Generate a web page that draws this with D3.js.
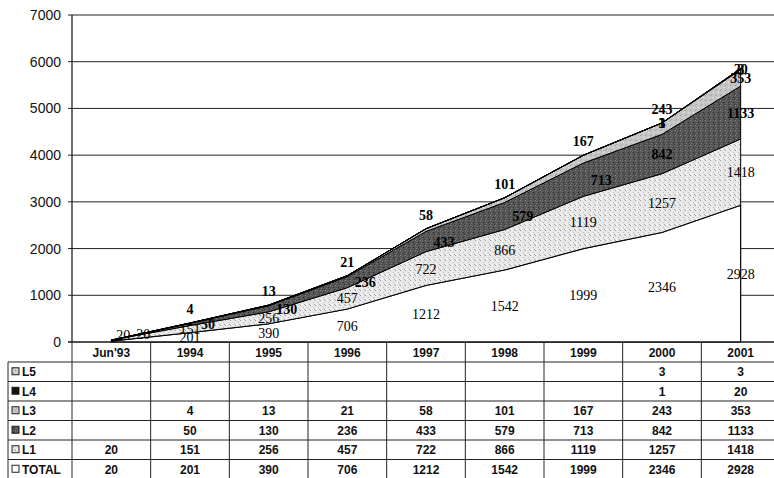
<!DOCTYPE html>
<html>
<head>
<meta charset="utf-8">
<script src="https://cdn.jsdelivr.net/npm/d3@7/dist/d3.min.js"></script>
<style>
  html, body { margin: 0; padding: 0; background: #fff; }
  svg { display: block; }
</style>
</head>
<body>
<svg id="chart" width="774" height="478"></svg>
<script>
// ---- data ----
const categories = ["Jun'93", "1994", "1995", "1996", "1997", "1998", "1999", "2000", "2001"];
const TOTAL = [20, 201, 390, 706, 1212, 1542, 1999, 2346, 2928];
const L1 = [20, 151, 256, 457, 722, 866, 1119, 1257, 1418];
const L2 = [null, 50, 130, 236, 433, 579, 713, 842, 1133];
const L3 = [null, 4, 13, 21, 58, 101, 167, 243, 353];
const L4 = [null, null, null, null, null, null, null, 1, 20];
const L5 = [null, null, null, null, null, null, null, 3, 3];
const yTicks = [0, 1000, 2000, 3000, 4000, 5000, 6000, 7000];

// stacking order bottom -> top
const seriesNames = ["TOTAL", "L1", "L2", "L3", "L4", "L5"];
const seriesValues = { TOTAL, L1, L2, L3, L4, L5 };
// table rows top -> bottom
const tableRows = ["L5", "L4", "L3", "L2", "L1", "TOTAL"];

// ---- layout ----
const W = 774, H = 478;
const axisX = 72, plotRight = 774;
const plotTop = 15, plotBottom = 342;
const svg = d3.select("#chart");

const x = d3.scaleBand().domain(categories).range([72, 780]).padding(0);
const cx = c => x(c) + x.bandwidth() / 2;
const y = d3.scaleLinear().domain([0, 7000]).range([plotBottom, plotTop]);

// ---- patterns ----
const defs = svg.append("defs");
function pattern(id, base, dots) {
  const p = defs.append("pattern").attr("id", id).attr("patternUnits", "userSpaceOnUse")
    .attr("width", 5).attr("height", 5);
  p.append("rect").attr("width", 5).attr("height", 5).attr("fill", base);
  dots.forEach(d => p.append("rect").attr("x", d[0]).attr("y", d[1]).attr("width", 1).attr("height", 1).attr("fill", d[2]));
}
pattern("pL1", "#e9e9e9", [[0, 0, "#9a9a9a"], [3, 2, "#bdbdbd"], [1, 4, "#ffffff"], [4, 4, "#a8a8a8"]]);
pattern("pL2", "#555555", [[0, 0, "#8a8a8a"], [3, 2, "#2a2a2a"], [1, 3, "#777777"], [4, 4, "#333333"], [2, 1, "#6a6a6a"]]);
pattern("pL3", "#c6c6c6", [[0, 0, "#9a9a9a"], [3, 2, "#e6e6e6"], [1, 4, "#a6a6a6"]]);
pattern("pL5", "#d0d0d0", [[0, 0, "#888888"], [3, 3, "#999999"]]);
const fills = { TOTAL: "#ffffff", L1: "url(#pL1)", L2: "url(#pL2)", L3: "url(#pL3)", L4: "#111111", L5: "url(#pL5)" };

// ---- gridlines and y axis ----
const grid = svg.append("g");
grid.selectAll("line").data(yTicks).join("line")
  .attr("x1", axisX - 4).attr("x2", plotRight)
  .attr("y1", d => y(d)).attr("y2", d => y(d))
  .attr("stroke", "#222").attr("stroke-width", 1);
grid.selectAll("text").data(yTicks).join("text")
  .attr("x", 61).attr("y", d => y(d) + 5)
  .attr("text-anchor", "end")
  .attr("font-family", "Liberation Sans, Arial, sans-serif")
  .attr("font-size", 14).attr("fill", "#111")
  .text(d => d);

// ---- stacked areas ----
const rows = categories.map((c, i) => {
  const o = { cat: c };
  seriesNames.forEach(s => o[s] = seriesValues[s][i] == null ? 0 : seriesValues[s][i]);
  return o;
});
const stack = d3.stack().keys(seriesNames)(rows);
const area = d3.area()
  .x(d => cx(d.data.cat))
  .y0(d => y(d[0]))
  .y1(d => y(d[1]));

svg.append("g").selectAll("path").data(stack).join("path")
  .attr("d", area)
  .attr("fill", d => fills[d.key])
  .attr("stroke", "#000")
  .attr("stroke-width", d => d.key === "TOTAL" ? 1.2 : 1)
  .attr("stroke-linejoin", "round");

// y axis line
svg.append("line").attr("x1", axisX).attr("x2", axisX)
  .attr("y1", plotTop).attr("y2", plotBottom).attr("stroke", "#111").attr("stroke-width", 1.2);

// ---- data labels ----
const last = categories.length - 1;
const labelG = svg.append("g")
  .attr("font-family", "Liberation Serif, Times New Roman, serif")
  .attr("font-size", 14).attr("fill", "#000").attr("text-anchor", "middle");
stack.forEach((layer, si) => {
  const name = layer.key;
  layer.forEach((d, i) => {
    const v = seriesValues[name][i];
    if (v == null) return;
    let ly = (y(d[0]) + y(d[1])) / 2;
    let lx = cx(d.data.cat);
    if (name === "L3" && i < last) ly = y(d[1]) - 14;
    if (name === "L2" && i < last - 1) lx += 18;
    if (i === 0) { lx += 12 + 20 * si; ly -= 7; }
    labelG.append("text")
      .attr("x", lx).attr("y", ly + 5)
      .attr("font-weight", (name === "TOTAL" || name === "L1") ? "normal" : "bold")
      .text(v);
  });
});

// ---- data table ----
const headerTop = plotBottom, headerBottom = 362, rowH = 19.5, tableLeft = 8;
const tbl = svg.append("g")
  .attr("font-family", "Liberation Sans, Arial, sans-serif")
  .attr("font-size", 12).attr("font-weight", "bold").attr("fill", "#111");

// axis/header top line
tbl.append("line").attr("x1", axisX - 4).attr("x2", plotRight)
  .attr("y1", headerTop).attr("y2", headerTop).attr("stroke", "#111").attr("stroke-width", 1.2);

// header texts
tbl.selectAll("text.hdr").data(categories).join("text").attr("class", "hdr")
  .attr("x", d => cx(d)).attr("y", headerTop + 15)
  .attr("text-anchor", "middle").text(d => d);

// horizontal lines
const rowTops = d3.range(tableRows.length + 1).map(k => headerBottom + k * rowH);
tbl.selectAll("line.h").data(rowTops).join("line").attr("class", "h")
  .attr("x1", tableLeft).attr("x2", plotRight)
  .attr("y1", d => d).attr("y2", d => d)
  .attr("stroke", "#222").attr("stroke-width", 1);

// vertical lines: left border of label column
tbl.append("line").attr("x1", tableLeft).attr("x2", tableLeft)
  .attr("y1", headerBottom).attr("y2", H).attr("stroke", "#222");
// column boundaries
const bounds = categories.map(c => x(c));
tbl.selectAll("line.v").data(bounds).join("line").attr("class", "v")
  .attr("x1", d => d).attr("x2", d => d)
  .attr("y1", headerTop).attr("y2", H)
  .attr("stroke", "#222").attr("stroke-width", 1);

// row labels, keys and values
tableRows.forEach((name, r) => {
  const top = headerBottom + r * rowH;
  const mid = top + rowH / 2;
  tbl.append("rect").attr("x", 12).attr("y", mid - 4).attr("width", 7).attr("height", 7)
    .attr("fill", fills[name]).attr("stroke", "#222").attr("stroke-width", 1);
  tbl.append("text").attr("x", 22).attr("y", mid + 4.5).text(name);
  seriesValues[name].forEach((v, i) => {
    if (v == null) return;
    tbl.append("text").attr("x", cx(categories[i])).attr("y", mid + 4.5)
      .attr("text-anchor", "middle").text(v);
  });
});
</script>
</body>
</html>
